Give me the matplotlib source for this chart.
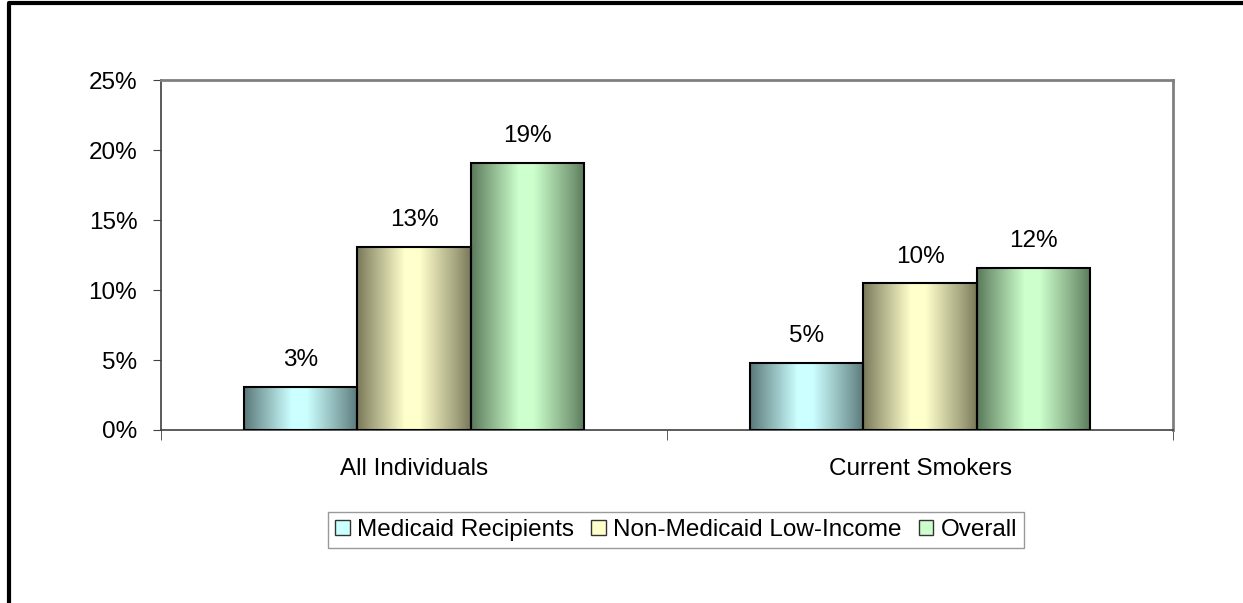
import numpy as np
import matplotlib.pyplot as plt
from matplotlib.colors import LinearSegmentedColormap
from matplotlib.lines import Line2D
from matplotlib.patches import Patch

plt.rcParams['font.family'] = ['Liberation Sans', 'DejaVu Sans']

# Data
categories = ['All Individuals', 'Current Smokers']
series = ['Medicaid Recipients', 'Non-Medicaid Low-Income', 'Overall']
medicaid = [3.1, 4.8]
non_medicaid = [13.1, 10.5]
overall = [19.1, 11.6]
labels = [['3%', '5%'], ['13%', '10%'], ['19%', '12%']]

values = [medicaid, non_medicaid, overall]
dark_cols = ['#5a7879', '#79795a', '#5a795a']
light_cols = ['#ccffff', '#ffffcc', '#ccffcc']
fs = 17.5

fig = plt.figure(figsize=(12.43, 6.03), dpi=100)
ax = fig.add_axes([0.1295, 0.2869, 0.8142, 0.5804])

width = 0.224
x = np.arange(len(categories))
grad = np.linspace(0, 1, 256)
prof = np.interp(grad, [0, 0.12, 0.42, 0.55, 0.88, 1], [0, 0.3, 1, 1, 0.3, 0])
img = prof[np.newaxis, :]

for i, vals in enumerate(values):
    cmap = LinearSegmentedColormap.from_list('g%d' % i, [dark_cols[i], light_cols[i]])
    pos = x + (i - 1) * width
    bars = ax.bar(pos, vals, width, facecolor='none', edgecolor='black', linewidth=1.5, zorder=3)
    for b, lab in zip(bars, labels[i]):
        x0, y0 = b.get_x(), b.get_y()
        w, h = b.get_width(), b.get_height()
        im = ax.imshow(img, cmap=cmap, vmin=0, vmax=1, aspect='auto',
                       extent=[x0, x0 + w, y0, y0 + h], zorder=2, interpolation='bilinear')
        im.set_clip_path(b)
        ax.annotate(lab, (x0 + w / 2, y0 + h), xytext=(0, 19), textcoords='offset points',
                    ha='center', va='center', fontsize=fs)

ax.set_xlim(-0.5, 1.5)
ax.set_ylim(0, 25)
ax.set_yticks(np.arange(0, 26, 5))
ax.set_yticklabels(['%d%%' % v for v in range(0, 26, 5)], fontsize=fs)
ax.set_xticks(x)
ax.set_xticklabels(categories, fontsize=fs)
ax.set_xticks([-0.5, 0.5, 1.5], minor=True)
ax.tick_params(axis='x', which='major', length=0, pad=20)
ax.tick_params(axis='x', which='minor', length=7, direction='out', color='#404040')
ax.tick_params(axis='y', length=6, direction='out', pad=11, color='#404040')

for s in ['top', 'right']:
    ax.spines[s].set_color('#808080')
    ax.spines[s].set_linewidth(2)
for s in ['left', 'bottom']:
    ax.spines[s].set_color('#404040')
    ax.spines[s].set_linewidth(1.2)

handles = [Patch(facecolor=light_cols[i], edgecolor='#333333', linewidth=1) for i in range(3)]
fig.legend(handles, series, loc='center', bbox_to_anchor=(0.544, 0.121), ncol=3,
           fontsize=fs, frameon=True, fancybox=False, edgecolor='#808080',
           handlelength=0.6, handleheight=0.6, handletextpad=0.3, columnspacing=0.7,
           borderpad=0.3)

# outer frame
fig.add_artist(Line2D([9 / 1243, 9 / 1243, 1], [0, 1 - 3 / 603, 1 - 3 / 603],
                      transform=fig.transFigure, color='black', linewidth=3))

fig.savefig('out.png', dpi=100)
